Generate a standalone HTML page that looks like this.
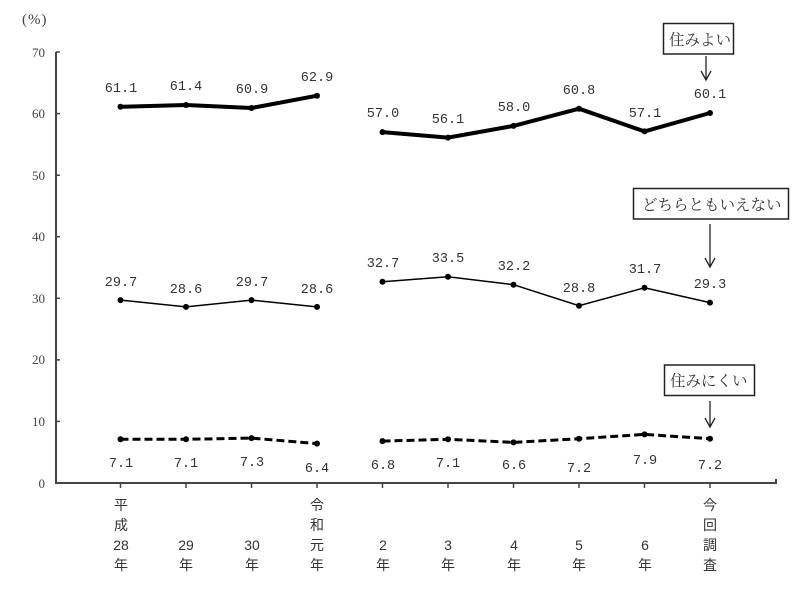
<!DOCTYPE html>
<html><head><meta charset="utf-8"><style>
html,body{margin:0;padding:0;background:#fff;}
svg{display:block;}
.yl{font-family:"Liberation Serif","Noto Serif CJK SC",serif;font-size:13px;fill:#444;}
.dl{font-family:"Liberation Mono","Noto Sans CJK JP",monospace;font-size:13.5px;fill:#333;}
.xl{font-family:"Liberation Sans","Noto Sans CJK JP",sans-serif;font-size:14px;fill:#333;}
.bx{font-family:"Liberation Sans","Noto Serif CJK SC",serif;font-size:15.5px;fill:#333;}
</style></head><body>
<svg width="800" height="594" viewBox="0 0 800 594" xmlns="http://www.w3.org/2000/svg">
<rect width="800" height="594" fill="#fff"/>
<g stroke="#444" stroke-width="2" fill="none">
<line x1="56" y1="52" x2="56" y2="484"/>
<line x1="55" y1="483" x2="777" y2="483"/>
<line x1="776" y1="479" x2="776" y2="484"/>
</g>
<g stroke="#444" stroke-width="1.5">
<line x1="56" y1="52" x2="60" y2="52"/>
<line x1="56" y1="113.6" x2="60" y2="113.6"/>
<line x1="56" y1="175.2" x2="60" y2="175.2"/>
<line x1="56" y1="236.7" x2="60" y2="236.7"/>
<line x1="56" y1="298.3" x2="60" y2="298.3"/>
<line x1="56" y1="359.9" x2="60" y2="359.9"/>
<line x1="56" y1="421.4" x2="60" y2="421.4"/>
<line x1="120.5" y1="483" x2="120.5" y2="488"/>
<line x1="186" y1="483" x2="186" y2="488"/>
<line x1="251.5" y1="483" x2="251.5" y2="488"/>
<line x1="317" y1="483" x2="317" y2="488"/>
<line x1="382.5" y1="483" x2="382.5" y2="488"/>
<line x1="448" y1="483" x2="448" y2="488"/>
<line x1="513.5" y1="483" x2="513.5" y2="488"/>
<line x1="579" y1="483" x2="579" y2="488"/>
<line x1="644.5" y1="483" x2="644.5" y2="488"/>
<line x1="710" y1="483" x2="710" y2="488"/>
</g>
<g class="yl" text-anchor="end">
<text x="45" y="57">70</text>
<text x="45" y="118">60</text>
<text x="45" y="180">50</text>
<text x="45" y="241">40</text>
<text x="45" y="303">30</text>
<text x="45" y="364">20</text>
<text x="45" y="426">10</text>
<text x="45" y="488">0</text>
</g>
<text class="yl" x="22" y="24" style="font-size:15px" letter-spacing="1">(%)</text>

<g fill="none" stroke="#000" stroke-width="4" stroke-linejoin="round" stroke-linecap="round">
<polyline points="120.5,106.8 186,105 251.5,108 317,95.7"/>
<polyline points="382.5,132.1 448,137.6 513.5,125.9 579,108.7 644.5,131.4 710,113"/>
</g>
<g fill="none" stroke="#000" stroke-width="1.5">
<polyline points="120.5,300.1 186,306.9 251.5,300.1 317,306.9"/>
<polyline points="382.5,281.7 448,276.7 513.5,284.7 579,305.7 644.5,287.8 710,302.6"/>
</g>
<g fill="none" stroke="#000" stroke-width="3" stroke-dasharray="8,4">
<polyline points="120.5,439.3 186,439.3 251.5,438.1 317,443.6"/>
<polyline points="382.5,441.1 448,439.3 513.5,442.4 579,438.7 644.5,434.4 710,438.7"/>
</g>
<g fill="#000">
<circle cx="120.5" cy="106.8" r="3"/><circle cx="186" cy="105" r="3"/><circle cx="251.5" cy="108" r="3"/><circle cx="317" cy="95.7" r="3"/>
<circle cx="382.5" cy="132.1" r="3"/><circle cx="448" cy="137.6" r="3"/><circle cx="513.5" cy="125.9" r="3"/><circle cx="579" cy="108.7" r="3"/><circle cx="644.5" cy="131.4" r="3"/><circle cx="710" cy="113" r="3"/>
<circle cx="120.5" cy="300.1" r="3"/><circle cx="186" cy="306.9" r="3"/><circle cx="251.5" cy="300.1" r="3"/><circle cx="317" cy="306.9" r="3"/>
<circle cx="382.5" cy="281.7" r="3"/><circle cx="448" cy="276.7" r="3"/><circle cx="513.5" cy="284.7" r="3"/><circle cx="579" cy="305.7" r="3"/><circle cx="644.5" cy="287.8" r="3"/><circle cx="710" cy="302.6" r="3"/>
<circle cx="120.5" cy="439.3" r="3"/><circle cx="186" cy="439.3" r="3"/><circle cx="251.5" cy="438.1" r="3"/><circle cx="317" cy="443.6" r="3"/>
<circle cx="382.5" cy="441.1" r="3"/><circle cx="448" cy="439.3" r="3"/><circle cx="513.5" cy="442.4" r="3"/><circle cx="579" cy="438.7" r="3"/><circle cx="644.5" cy="434.4" r="3"/><circle cx="710" cy="438.7" r="3"/>
</g>
<g class="dl" text-anchor="middle">
<text x="121" y="92">61.1</text><text x="186" y="90">61.4</text><text x="252" y="93">60.9</text><text x="317" y="81">62.9</text>
<text x="383" y="117">57.0</text><text x="448" y="123">56.1</text><text x="514" y="111">58.0</text><text x="579" y="94">60.8</text><text x="645" y="117">57.1</text><text x="710" y="98">60.1</text>
<text x="121" y="286">29.7</text><text x="186" y="293">28.6</text><text x="252" y="286">29.7</text><text x="317" y="293">28.6</text>
<text x="383" y="267">32.7</text><text x="448" y="262">33.5</text><text x="514" y="270">32.2</text><text x="579" y="292">28.8</text><text x="645" y="273">31.7</text><text x="710" y="288">29.3</text>
<text x="121" y="467">7.1</text><text x="186" y="467">7.1</text><text x="252" y="466">7.3</text><text x="317" y="472">6.4</text>
<text x="383" y="469">6.8</text><text x="448" y="467">7.1</text><text x="514" y="469">6.6</text><text x="579" y="472">7.2</text><text x="645" y="464">7.9</text><text x="710" y="469">7.2</text>
</g>
<g class="xl" text-anchor="middle">
<text x="121" y="510">平</text><text x="121" y="530">成</text><text x="121" y="550">28</text><text x="121" y="570">年</text>
<text x="186" y="550">29</text><text x="186" y="570">年</text>
<text x="252" y="550">30</text><text x="252" y="570">年</text>
<text x="317" y="510">令</text><text x="317" y="530">和</text><text x="317" y="550">元</text><text x="317" y="570">年</text>
<text x="383" y="550">2</text><text x="383" y="570">年</text>
<text x="448" y="550">3</text><text x="448" y="570">年</text>
<text x="514" y="550">4</text><text x="514" y="570">年</text>
<text x="579" y="550">5</text><text x="579" y="570">年</text>
<text x="645" y="550">6</text><text x="645" y="570">年</text>
<text x="710" y="510">今</text><text x="710" y="530">回</text><text x="710" y="550">調</text><text x="710" y="570">査</text>
</g>
<g fill="#fff" stroke="#222" stroke-width="1.5">
<rect x="663.5" y="23.5" width="70" height="30.5"/>
<rect x="633.5" y="188.5" width="155" height="30.5"/>
<rect x="664.5" y="365" width="90" height="30.5"/>
</g>
<g class="bx">
<text x="669" y="45">住みよい</text>
<text x="642" y="210">どちらともいえない</text>
<text x="670" y="386">住みにくい</text>
</g>
<g fill="none" stroke="#222" stroke-width="1.3">
<line x1="706" y1="56" x2="706" y2="80"/><polyline points="701,71 706,80 711,71"/>
<line x1="710" y1="224" x2="710" y2="267"/><polyline points="705,258 710,267 715,258"/>
<line x1="710" y1="401" x2="710" y2="427"/><polyline points="705,418 710,427 715,418"/>
</g>
</svg>
</body></html>
